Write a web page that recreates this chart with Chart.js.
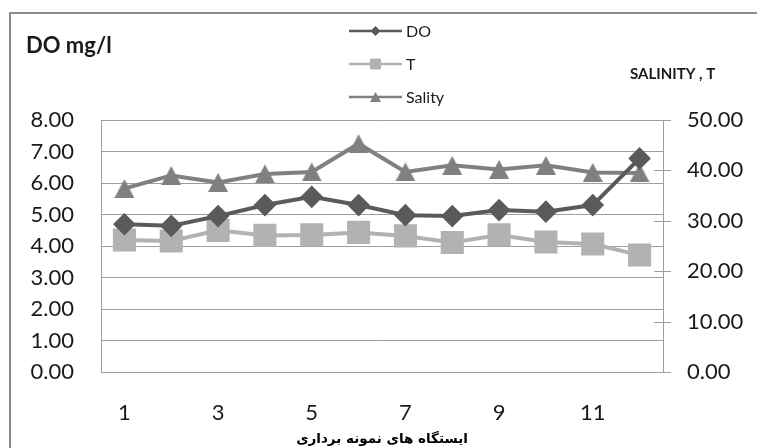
<!DOCTYPE html>
<html><head><meta charset="utf-8">
<script src="https://cdn.jsdelivr.net/npm/chart.js@4.4.1/dist/chart.umd.min.js"></script>
<style>html,body{margin:0;padding:0;background:#fff}#wrap{width:757px;height:448px;position:relative}</style>
</head><body><div id="wrap"><canvas id="c" width="757" height="448"></canvas></div>
<script>
const stations = ['1','2','3','4','5','6','7','8','9','10','11','12'];
const doValues = [4.69, 4.64, 4.95, 5.30, 5.56, 5.30, 4.98, 4.95, 5.14, 5.09, 5.30, 6.78];
const tValues = [26.2, 26.0, 28.1, 27.1, 27.2, 27.7, 27.0, 25.7, 27.2, 25.8, 25.4, 23.2];
const salityValues = [36.4, 39.0, 37.6, 39.3, 39.7, 45.3, 39.7, 41.0, 40.2, 41.0, 39.6, 39.5];
const seriesNames = ['DO', 'T', 'Sality'];
const leftAxisTitle = 'DO mg/l';
const rightAxisTitle = 'SALINITY , T';
const xAxisTitle = 'ایستگاه های نمونه برداری';

const FONT = 'Lato, "Open Sans", sans-serif';
const GRID = '#9e9e9e';

function triangleImage(w, h, color) {
  const c = document.createElement('canvas');
  c.width = w; c.height = h;
  const g = c.getContext('2d');
  g.fillStyle = color;
  g.beginPath();
  g.moveTo(w / 2, 0);
  g.lineTo(w, h);
  g.lineTo(0, h);
  g.closePath();
  g.fill();
  return c;
}
const triBig = triangleImage(20, 19, '#808080');
const triSmall = triangleImage(11, 10, '#808080');

const frame = {
  id: 'frame',
  beforeDraw(chart) {
    const ctx = chart.ctx;
    ctx.save();
    ctx.fillStyle = '#fff';
    ctx.fillRect(0, 0, chart.width, chart.height);
    ctx.strokeStyle = '#8c8c8c';
    ctx.lineWidth = 2;
    ctx.strokeRect(10, 13, 800, 500);
    ctx.restore();
  },
  afterDraw(chart) {
    const ctx = chart.ctx;
    ctx.save();
    ctx.fillStyle = '#1a1a1a';
    ctx.textBaseline = 'middle';
    ctx.textAlign = 'left';
    ctx.font = 'bold 22px ' + FONT;
    ctx.fillText(leftAxisTitle, 26, 46);
    ctx.font = 'bold 15px ' + FONT;
    ctx.fillText(rightAxisTitle, 630, 74);
    const s = chart.scales.y1;
    ctx.strokeStyle = GRID;
    ctx.lineWidth = 1;
    s.ticks.forEach(t => {
      const y = Math.round(s.getPixelForValue(t.value)) + 0.5;
      ctx.beginPath();
      ctx.moveTo(s.left - 9, y);
      ctx.lineTo(s.left + 8, y);
      ctx.stroke();
    });
    const rows = [31, 64, 97];
    chart.data.datasets.forEach((ds, i) => {
      const y = rows[i];
      ctx.strokeStyle = ds.borderColor;
      ctx.lineWidth = 2.5;
      ctx.beginPath();
      ctx.moveTo(349, y);
      ctx.lineTo(402, y);
      ctx.stroke();
      if (Chart.helpers && Chart.helpers.drawPoint) {
        ctx.fillStyle = ds.pointBackgroundColor;
        ctx.strokeStyle = ds.pointBorderColor;
        ctx.lineWidth = 1;
        Chart.helpers.drawPoint(ctx, {pointStyle: ds.legendStyle, radius: ds.legendRadius, borderWidth: 1, rotation: 0}, 375.5, y);
      }
      ctx.fillStyle = '#1a1a1a';
      ctx.font = '16px ' + FONT;
      ctx.textAlign = 'left';
      ctx.fillText(ds.label, 406, y + 1);
    });
    ctx.restore();
  }
};

new Chart(document.getElementById('c'), {
  type: 'line',
  data: {
    labels: stations,
    datasets: [
      {label: seriesNames[0], data: doValues, yAxisID: 'y', borderColor: '#5a5a5a', backgroundColor: '#5a5a5a',
       pointBackgroundColor: '#5a5a5a', pointBorderColor: '#5a5a5a', pointStyle: 'rectRot', pointRadius: 8.5,
       borderWidth: 4, tension: 0, legendStyle: 'rectRot', legendRadius: 4.5},
      {label: seriesNames[1], data: tValues, yAxisID: 'y1', borderColor: '#b2b2b2', backgroundColor: '#b2b2b2',
       pointBackgroundColor: '#b2b2b2', pointBorderColor: '#b2b2b2', pointStyle: 'rect', pointRadius: 13.5,
       borderWidth: 4, tension: 0, legendStyle: 'rect', legendRadius: 7},
      {label: seriesNames[2], data: salityValues, yAxisID: 'y1', borderColor: '#808080', backgroundColor: '#808080',
       pointBackgroundColor: '#808080', pointBorderColor: '#808080', pointStyle: triBig, pointRadius: 11,
       borderWidth: 4, tension: 0, legendStyle: triSmall, legendRadius: 6}
    ]
  },
  options: {
    responsive: false,
    animation: false,
    events: [],
    layout: {padding: {top: 120, left: 0, right: 0, bottom: 0}},
    plugins: {legend: {display: false}, title: {display: false}, tooltip: {enabled: false}},
    scales: {
      x: {
        offset: true,
        grid: {display: false, drawTicks: false},
        border: {display: true, color: GRID, width: 1},
        ticks: {autoSkip: false, maxRotation: 0, padding: 28, color: '#1a1a1a', font: {family: FONT, size: 22},
                callback: function(v, i) { return i % 2 === 0 ? this.getLabelForValue(v) : ''; }},
        title: {display: true, text: xAxisTitle, color: '#000', font: {family: '"DejaVu Sans", sans-serif', size: 13.5, weight: 'bold'}, padding: 0},
        afterFit(s) { s.height = 76; }
      },
      y: {
        position: 'left', min: 0, max: 8,
        ticks: {stepSize: 1, padding: 27, color: '#1a1a1a', font: {family: FONT, size: 22},
                callback: v => Number(v).toFixed(2)},
        grid: {color: GRID, drawTicks: false, lineWidth: 1},
        border: {display: true, color: GRID, width: 1},
        afterFit(s) { s.width = 101; }
      },
      y1: {
        position: 'right', min: 0, max: 50,
        ticks: {stepSize: 10, padding: 24, color: '#1a1a1a', font: {family: FONT, size: 22},
                callback: v => Number(v).toFixed(2)},
        grid: {drawOnChartArea: false, drawTicks: false},
        border: {display: true, color: GRID, width: 1},
        afterFit(s) { s.width = 94; }
      }
    }
  },
  plugins: [frame]
});
</script></body></html>
